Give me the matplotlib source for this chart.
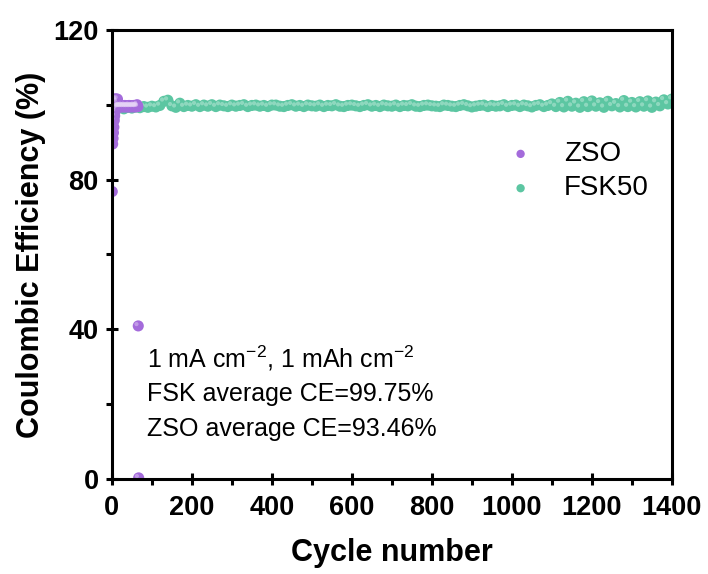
import matplotlib
matplotlib.use("Agg")
import matplotlib.pyplot as plt
import matplotlib.transforms as mtransforms
import numpy as np

plt.rcParams['font.family'] = ['Liberation Sans', 'DejaVu Sans']
plt.rcParams['mathtext.fontset'] = 'custom'
plt.rcParams['mathtext.rm'] = 'Liberation Sans'
plt.rcParams['mathtext.it'] = 'Liberation Sans:italic'
plt.rcParams['mathtext.bf'] = 'Liberation Sans:bold'

# ---------------- data ----------------
zso_cycles = list(range(1, 68))
zso_ce = [76.8, 89.5, 91.0, 92.5, 94.0, 95.8, 97.0, 98.2, 101.6, 101.2,
          99.0, 100.8, 99.6, 101.5, 99.4, 99.7, 99.5, 99.8, 99.4, 99.6,
          99.5, 99.7, 99.4, 99.6, 99.8, 99.5, 99.6, 99.4, 99.7, 99.5,
          99.6, 99.8, 99.5, 99.4, 99.6, 99.7, 99.5, 99.6, 99.4, 99.7,
          99.5, 99.6, 99.8, 99.5, 99.4, 99.6, 99.7, 99.5, 99.6, 99.5,
          99.7, 99.4, 99.6, 99.5, 99.8, 99.6, 99.5, 99.7, 99.4, 99.6,
          99.5, 99.7, 100.0, 99.6, 99.5, 40.9, 0.3]

fsk_cycles = list(range(10, 1401, 10))
fsk_ce = [99.0, 99.2, 98.9, 99.3, 99.1, 99.4, 99.2, 99.5, 99.3, 99.6,
          99.4, 99.8, 100.9, 101.2, 99.7, 99.3, 100.4, 99.5, 99.8, 99.6,
          100.0, 99.5, 99.9, 99.6, 100.0, 99.5, 99.9, 99.7, 99.5, 99.9,
          99.6, 99.8, 100.0, 99.5, 99.8, 99.9, 99.6, 99.8, 99.5, 99.9,
          99.9, 99.6, 99.5, 99.8, 100.0, 99.6, 99.8, 99.5, 99.9, 99.7,
          99.6, 99.9, 99.5, 99.8, 99.7, 100.0, 99.6, 99.5, 99.8, 99.9,
          99.7, 99.5, 99.8, 100.0, 99.6, 99.8, 99.5, 99.9, 99.7, 99.6,
          99.9, 99.5, 99.8, 99.7, 100.0, 99.6, 99.5, 99.8, 99.9, 99.7,
          99.6, 99.5, 99.9, 99.8, 99.6, 99.5, 99.8, 100.0, 99.7, 99.4,
          99.6, 99.8, 99.9, 99.5, 99.8, 99.6, 99.7, 100.0, 99.5, 99.8,
          99.9, 99.5, 99.9, 99.7, 99.4, 99.8, 100.0, 99.5, 99.8, 100.2,
          99.5, 100.6, 99.4, 100.9, 99.6, 100.4, 99.3, 100.8, 99.5, 101.0,
          99.6, 100.5, 99.3, 100.9, 99.7, 100.3, 99.4, 101.1, 99.5, 100.6,
          99.4, 100.8, 99.6, 101.0, 99.3, 100.7, 99.7, 101.3, 100.2, 101.5]

series_labels = ['ZSO', 'FSK50']
series_colors = ['#A46BDB', '#5CC6A2']
highlight_colors = ['#E6D4F7', '#CDEFE2']

annotation_lines = ['1 mA cm$^{-2}$, 1 mAh cm$^{-2}$',
                    'FSK average CE=99.75%',
                    'ZSO average CE=93.46%']

# ---------------- figure ----------------
fig = plt.figure(figsize=(7.08, 5.74), dpi=100)
ax = fig.add_axes([0.158, 0.1655, 0.791, 0.7825])

ms_area = 64
for xs, ys, c, hc, lab, z in [(zso_cycles, zso_ce, series_colors[0], highlight_colors[0], series_labels[0], 3),
                              (fsk_cycles, fsk_ce, series_colors[1], highlight_colors[1], series_labels[1], 2)]:
    ax.scatter(xs, ys, s=ms_area, color=c, edgecolors='none', zorder=z, label=lab)
    off = mtransforms.offset_copy(ax.transData, fig=fig, x=-1.3, y=1.3, units='points')
    ax.scatter(xs, ys, s=9, color=hc, edgecolors='none', alpha=0.45, zorder=z, transform=off)

ax.set_xlim(0, 1400)
ax.set_ylim(0, 120)
ax.set_xticks(np.arange(0, 1401, 200))
ax.set_xticks(np.arange(100, 1400, 200), minor=True)
ax.set_yticks([0, 40, 80, 120])
ax.set_yticks([20, 60, 100], minor=True)

for sp in ax.spines.values():
    sp.set_linewidth(2.2)
    sp.set_zorder(5)

ax.tick_params(which='major', direction='inout', length=9, width=2.2,
               labelsize=19.5)
ax.tick_params(axis='x', which='major', pad=7)
ax.tick_params(axis='y', which='major', pad=5)
ax.tick_params(which='minor', direction='out', length=4, width=2.2)
for lbl in ax.get_xticklabels() + ax.get_yticklabels():
    lbl.set_fontweight('bold')

ax.set_xlabel('Cycle number', fontsize=22, fontweight='bold', labelpad=12)
ax.set_ylabel('Coulombic Efficiency (%)', fontsize=22, fontweight='bold', labelpad=5)

leg = ax.legend(loc='center left', bbox_to_anchor=(0.648, 0.685), frameon=False,
                fontsize=20, markerscale=0.75, handletextpad=0.8, labelspacing=0.3,
                handlelength=1.5)

ys_txt = [0.269, 0.19, 0.112]
for t, yy in zip(annotation_lines, ys_txt):
    ax.text(0.062, yy, t, transform=ax.transAxes, fontsize=18, va='center', ha='left')

fig.savefig('out.png', dpi=100)
